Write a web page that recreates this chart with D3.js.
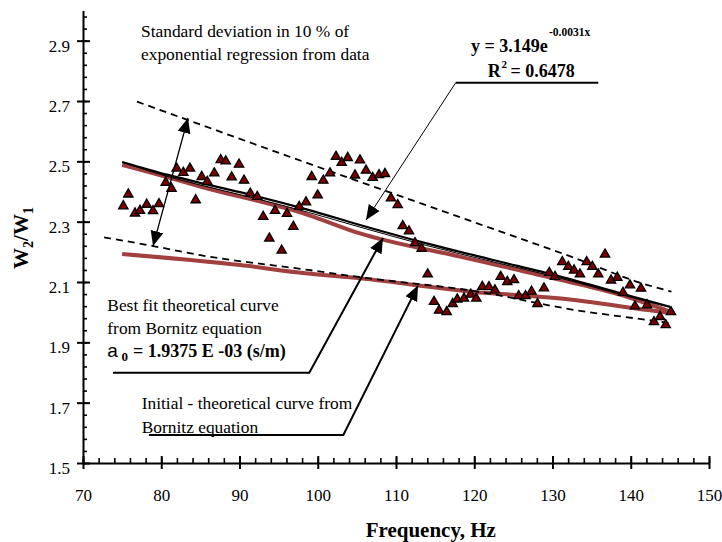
<!DOCTYPE html>
<meta charset="utf-8">
<style>
body { margin: 0; background: #fff; }
svg { display: block; font-family: "Liberation Serif", "Times New Roman", serif; }
.axis path, .axis line { stroke: #000; stroke-width: 2px; }
.axis text { font-size: 17px; fill: #000; font-family: "Liberation Serif", serif; }
.minor line { stroke-width: 1.6px; }
.note { font-size: 17.4px; fill: #000; }
.bold { font-weight: bold; }
</style>
<body>
<script src="https://cdn.jsdelivr.net/npm/d3@7"></script>
<script>
// measured points (frequency in Hz, W2/W1)
var freq = [75.15, 75.79, 76.65, 77.28, 78.14, 78.95, 79.71, 80.57, 81.31, 81.97,
            82.82, 83.67, 84.40, 85.17, 85.88, 86.78, 87.60, 88.24, 89.00, 89.94,
            90.58, 91.38, 92.27, 93.03, 93.81, 94.54, 95.39, 96.07, 96.88, 97.63,
            98.50, 99.23, 99.99, 100.71, 101.57, 102.33, 103.06, 103.83, 104.76, 105.40,
            106.17, 107.02, 107.83, 108.59, 109.36, 110.22, 110.86, 111.66, 112.43, 113.28,
            114.05, 114.86, 115.50, 116.48, 117.25, 117.83, 118.69, 119.55, 120.26, 121.03,
            121.88, 122.65, 123.38, 124.22, 125.08, 125.68, 126.55, 127.32, 128.08, 128.91,
            129.59, 130.32, 131.25, 132.02, 132.75, 133.51, 134.37, 135.09, 135.85, 136.71,
            137.48, 138.28, 139.01, 139.90, 141.31, 140.54, 142.08, 142.97, 143.74, 144.47, 145.14];
var ratio = [2.355, 2.394, 2.331, 2.340, 2.360, 2.339, 2.362, 2.433, 2.413, 2.480,
             2.466, 2.480, 2.375, 2.452, 2.436, 2.464, 2.508, 2.504, 2.451, 2.493,
             2.440, 2.397, 2.386, 2.320, 2.248, 2.340, 2.208, 2.330, 2.287, 2.353,
             2.368, 2.452, 2.391, 2.440, 2.464, 2.519, 2.499, 2.515, 2.457, 2.507,
             2.473, 2.449, 2.458, 2.462, 2.381, 2.359, 2.289, 2.272, 2.233, 2.214,
             2.129, 2.038, 2.009, 2.004, 2.031, 2.046, 2.049, 2.062, 2.049, 2.088,
             2.087, 2.076, 2.121, 2.104, 2.110, 2.057, 2.057, 2.072, 2.031, 2.083,
             2.134, 2.121, 2.170, 2.154, 2.142, 2.129, 2.170, 2.154, 2.129, 2.195,
             2.109, 2.118, 2.068, 2.093, 2.082, 2.023, 2.027, 1.971, 1.988, 1.961, 2.004];

// exponential regression (two traces drawn in the original)
var regFreq = [75.0, 80.9, 85.2, 91.6, 98.8, 105.4, 113.9, 122.4, 131.0, 139.5, 145.0];
var regVal  = [2.498, 2.455, 2.427, 2.388, 2.339, 2.289, 2.228, 2.173, 2.118, 2.057, 2.018];
var reg2Val = [2.497, 2.449, 2.420, 2.380, 2.331, 2.282, 2.221, 2.167, 2.113, 2.053, 2.016];

// best fit theoretical curve (Bornitz)
var bestFreq = [75.0, 76.65, 85.2, 98.8, 105.4, 118.2, 131.0, 139.5, 145.0];
var bestVal  = [2.488, 2.477, 2.415, 2.322, 2.261, 2.184, 2.107, 2.051, 2.002];

// initial theoretical curve
var initFreq = [75.0, 90.1, 98.4, 105.4, 119.7, 130.7, 142.2, 145.1];
var initVal  = [2.193, 2.156, 2.129, 2.112, 2.068, 2.046, 2.007, 1.997];

// +/- 10 % band
var upFreq = [76.9, 85.2, 98.8, 120.1, 132.9, 141.4, 145.2];
var upVal  = [2.698, 2.620, 2.493, 2.297, 2.179, 2.096, 2.068];
var loFreq = [72.7, 78.8, 85.0, 98.8, 105.4, 120.5, 132.9, 142.2, 145.0];
var loVal  = [2.248, 2.220, 2.189, 2.140, 2.116, 2.068, 2.007, 1.974, 1.964];

var xTicks = [70, 80, 90, 100, 110, 120, 130, 140, 150];
var yTicks = [1.5, 1.7, 1.9, 2.1, 2.3, 2.5, 2.7, 2.9];

var width = 722, height = 542;

var svg = d3.select("body").append("svg")
    .attr("width", width)
    .attr("height", height);

var x = d3.scaleLinear().domain([70, 150]).range([83, 709]),
    y = d3.scaleLinear().domain([1.5, 3.0]).range([463, 10.5]);

var defs = svg.append("defs");
defs.append("marker")
    .attr("id", "head")
    .attr("viewBox", "0 -7 15 14")
    .attr("refX", 15)
    .attr("refY", 0)
    .attr("markerWidth", 15)
    .attr("markerHeight", 14)
    .attr("markerUnits", "userSpaceOnUse")
    .attr("orient", "auto-start-reverse")
  .append("path")
    .attr("d", "M0,-6.5L15,0L0,6.5Z")
    .attr("fill", "#000");

// axes
var xMinor = d3.range(70, 151, 2);
var yMinor = d3.range(0, 38).map(function(i) { return 1.5 + i * 0.04; });

svg.append("g")
    .attr("class", "axis minor")
    .attr("transform", "translate(0,463)")
    .call(d3.axisBottom(x).tickValues(xMinor).tickSize(-5).tickFormat(""))
    .call(function(g) { g.select(".domain").remove(); });
svg.append("g")
    .attr("class", "axis")
    .attr("transform", "translate(0,463)")
    .call(d3.axisBottom(x).tickValues(xTicks).tickSize(-7).tickFormat(""))
    .call(function(g) { g.select(".domain").remove(); });
svg.append("g")
    .attr("class", "axis")
    .attr("transform", "translate(0,463)")
    .call(d3.axisBottom(x).tickValues(xTicks).tickSize(6).tickSizeOuter(0).tickPadding(20).tickFormat(d3.format("d")));

svg.append("g")
    .attr("class", "axis minor")
    .attr("transform", "translate(83,0)")
    .call(d3.axisLeft(y).tickValues(yMinor).tickSize(-4).tickFormat(""))
    .call(function(g) { g.select(".domain").remove(); });
svg.append("g")
    .attr("class", "axis")
    .attr("transform", "translate(83,0)")
    .call(d3.axisLeft(y).tickValues(yTicks).tickSize(-7).tickFormat(""))
    .call(function(g) { g.select(".domain").remove(); });
svg.append("g")
    .attr("class", "axis")
    .attr("transform", "translate(83,0)")
    .call(d3.axisLeft(y).tickValues(yTicks).tickSize(6).tickSizeOuter(0).tickPadding(7).tickFormat(d3.format(".1f")))
  .selectAll("text")
    .attr("dy", "0.62em");

// curves
var line = d3.line()
    .curve(d3.curveMonotoneX)
    .x(function(d) { return x(d[0]); })
    .y(function(d) { return y(d[1]); });

svg.append("path")
    .attr("d", line(d3.zip(initFreq, initVal)))
    .attr("fill", "none").attr("stroke", "#a23f3f").attr("stroke-width", 4);
svg.append("path")
    .attr("d", line(d3.zip(bestFreq, bestVal)))
    .attr("fill", "none").attr("stroke", "#a23f3f").attr("stroke-width", 4);

[[upFreq, upVal], [loFreq, loVal]].forEach(function(s) {
  svg.append("path")
      .attr("d", line(d3.zip(s[0], s[1])))
      .attr("fill", "none").attr("stroke", "#000")
      .attr("stroke-width", 1.8).attr("stroke-dasharray", "7,5");
});

svg.append("path")
    .attr("d", line(d3.zip(regFreq, reg2Val)))
    .attr("fill", "none").attr("stroke", "#000").attr("stroke-width", 1);
svg.append("path")
    .attr("d", line(d3.zip(regFreq, regVal)))
    .attr("fill", "none").attr("stroke", "#000").attr("stroke-width", 2.2);

// data points
svg.append("g").selectAll("path")
    .data(d3.zip(freq, ratio))
  .enter().append("path")
    .attr("d", d3.symbol(d3.symbolTriangle, 38))
    .attr("transform", function(d) { return "translate(" + x(d[0]) + "," + (y(d[1]) + 1) + ")"; })
    .attr("fill", "#7d0000")
    .attr("stroke", "#000")
    .attr("stroke-width", 1.3);

// leaders and arrows
var plain = d3.line()
    .x(function(d) { return x(d[0]); })
    .y(function(d) { return y(d[1]); });

svg.append("path")
    .attr("d", plain([[78.95, 2.219], [83.42, 2.6435]]))
    .attr("fill", "none").attr("stroke", "#000").attr("stroke-width", 1.3)
    .attr("marker-start", "url(#head)").attr("marker-end", "url(#head)");

svg.append("path")
    .attr("d", plain([[135.85, 2.7605], [117.63, 2.7605]]))
    .attr("fill", "none").attr("stroke", "#000").attr("stroke-width", 2);
svg.append("path")
    .attr("d", plain([[117.63, 2.7605], [106.17, 2.3054]]))
    .attr("fill", "none").attr("stroke", "#000").attr("stroke-width", 1)
    .attr("marker-end", "url(#head)");

svg.append("path")
    .attr("d", plain([[73.83, 1.7993], [98.92, 1.7993], [108.34, 2.2458]]))
    .attr("fill", "none").attr("stroke", "#000").attr("stroke-width", 2)
    .attr("marker-end", "url(#head)");

svg.append("path")
    .attr("d", plain([[78.43, 1.5928], [103.27, 1.5928], [112.81, 2.088]]))
    .attr("fill", "none").attr("stroke", "#000").attr("stroke-width", 2)
    .attr("marker-end", "url(#head)");

// notes
svg.append("text").attr("class", "note").attr("x", 141).attr("y", 36.5)
    .text("Standard deviation in 10 % of");
svg.append("text").attr("class", "note").attr("x", 141).attr("y", 59.5)
    .text("exponential regression from data");

svg.append("text").attr("class", "bold").attr("x", 471).attr("y", 51.7)
    .style("font-size", "18px").text("y = 3.149e");
svg.append("text").attr("class", "bold").attr("x", 549).attr("y", 36)
    .style("font-size", "11.5px").text("-0.0031x");
svg.append("text").attr("class", "bold").attr("x", 487.7).attr("y", 76.7)
    .style("font-size", "18px").text("R");
svg.append("text").attr("class", "bold").attr("x", 501.5).attr("y", 67.5)
    .style("font-size", "11px").text("2");
svg.append("text").attr("class", "bold").attr("x", 510.5).attr("y", 76.7)
    .style("font-size", "18px").text("= 0.6478");

svg.append("text").attr("class", "note").attr("x", 107.3).attr("y", 310.7)
    .text("Best fit theoretical curve");
svg.append("text").attr("class", "note").attr("x", 107.3).attr("y", 334)
    .text("from Bornitz equation");
var a0 = svg.append("text").attr("x", 107.3).attr("y", 356.7);
a0.append("tspan").style("font-family", "'Liberation Sans', Arial, sans-serif")
    .style("font-size", "19px").text("a");
a0.append("tspan").attr("x", 121.5).attr("dy", 4).attr("class", "bold")
    .style("font-size", "13px").text("0");
a0.append("tspan").attr("x", 133).attr("dy", -4).attr("class", "bold")
    .style("font-size", "18px").text("= 1.9375 E -03 (s/m)");

svg.append("text").attr("class", "note").attr("x", 141.7).attr("y", 409.3)
    .text("Initial - theoretical curve from");
svg.append("text").attr("class", "note").attr("x", 141.7).attr("y", 432.7)
    .text("Bornitz equation");

// axis titles
var yl = svg.append("text")
    .attr("class", "bold")
    .attr("transform", "translate(27.5,238) rotate(-90)")
    .attr("text-anchor", "middle")
    .style("font-size", "21px");
yl.append("tspan").text("W");
yl.append("tspan").attr("dy", 5).style("font-size", "14px").text("2");
yl.append("tspan").attr("dy", -5).text("/W");
yl.append("tspan").attr("dy", 5).style("font-size", "14px").text("1");

svg.append("text")
    .attr("class", "bold")
    .attr("x", 430.8).attr("y", 537)
    .attr("text-anchor", "middle")
    .style("font-size", "21px")
    .text("Frequency, Hz");
</script>
